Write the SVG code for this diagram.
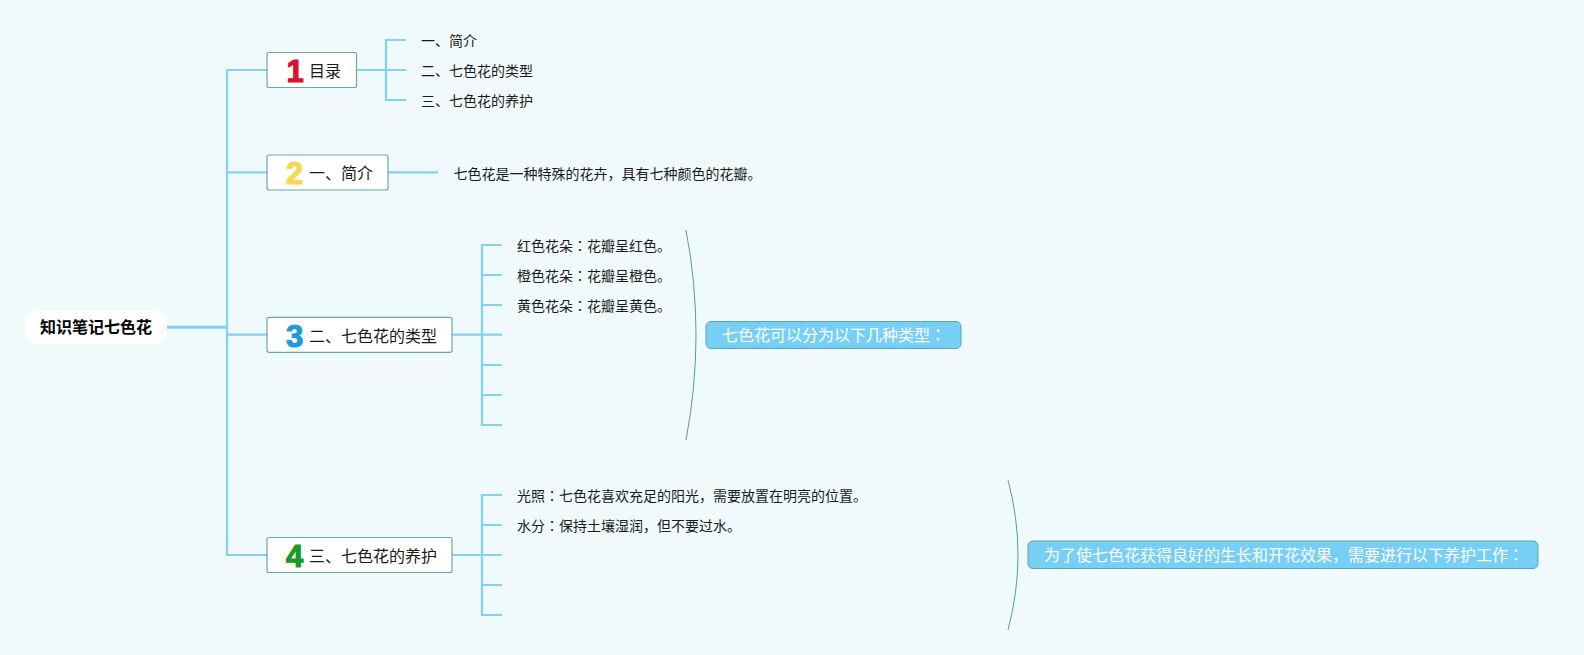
<svg xmlns="http://www.w3.org/2000/svg" width="1584" height="655" viewBox="0 0 1584 655">
<style>
text{font-family:"Noto Sans CJK SC","Noto Sans CJK TC",sans-serif;fill:#1a1a1a}
.c{font-family:"Noto Sans CJK TC",sans-serif}
.s{font-size:14px}
.b{font-size:16px}
.r{font-size:16px;font-weight:700;fill:#000}
.n{font-family:"Liberation Sans",Arial,sans-serif;font-size:31px;font-weight:700;text-anchor:middle;stroke-width:1.2;stroke-linejoin:round}
.box{fill:#fff;stroke:#6ba8a2;stroke-width:1.2}
.note{fill:#78cff5;stroke:#5aa6a6;stroke-width:1}
.w{font-size:16px;fill:#fff}
.l{fill:none;stroke:#84d2f2;stroke-width:2.200}
.arc{fill:none;stroke:#5a9e8e;stroke-width:1}
</style>
<rect width="1584" height="655" fill="#f0f9fc"/>
<g id="connectors">
<path class="l" style="stroke-width:3" d="M167 327.300H227"/>
<path class="l" d="M267 70H227V555H267M227 172.300H267M227 334.700H267"/>
<path class="l" d="M406 40H386V100H406M356 70H406M388 172.300H438"/>
<path class="l" d="M452 334.700H502M502 245H482V425H502M482 275H502M482 305H502M482 365H502M482 395H502"/>
<path class="l" d="M452 555H502M502 495H482V615H502M482 525H502M482 585H502"/>
<path class="arc" d="M686 230Q706 335 686 440"/>
<path class="arc" d="M1008 480Q1028 555 1008 630"/>
</g>
<g id="root"><rect x="25" y="311" width="142" height="33" rx="12" fill="#fff"/><text class="r" x="40" y="333">知识笔记七色花</text></g>
<g id="topic1"><rect class="box" x="267" y="52.500" width="89.500" height="35" rx="2"/><text class="n" x="295" y="81.500" style="fill:#d9112e;stroke:#d9112e">1</text><text class="b" x="309" y="76.700">目录</text></g>
<g id="topic2"><rect class="box" x="267" y="155" width="121" height="35" rx="2"/><text class="n" x="294.500" y="184" style="fill:#f5d94e;stroke:#f5d94e">2</text><text class="b" x="309" y="179">一、简介</text></g>
<g id="topic3"><rect class="box" x="267" y="317.300" width="185" height="35" rx="2"/><text class="n" x="294.500" y="346.500" style="fill:#1e9bdc;stroke:#1e9bdc">3</text><text class="b" x="309" y="341.500">二、七色花的类型</text></g>
<g id="topic4"><rect class="box" x="267" y="537.500" width="185" height="35" rx="2"/><text class="n" x="294.500" y="566.500" style="fill:#169c25;stroke:#169c25">4</text><text class="b" x="309" y="561.500">三、七色花的养护</text></g>
<g id="toc1"><text class="s" x="421" y="46">一、简介</text></g>
<g id="toc2"><text class="s" x="421" y="76">二、七色花的类型</text></g>
<g id="toc3"><text class="s" x="421" y="106">三、七色花的养护</text></g>
<g id="intro"><text class="s" x="453.500" y="179">七色花是一种特殊的花卉，具有七种颜色的花瓣。</text></g>
<g id="type1"><text class="s" x="517" y="251">红色花朵<tspan class="c">：</tspan>花瓣呈红色。</text></g>
<g id="type2"><text class="s" x="517" y="281">橙色花朵<tspan class="c">：</tspan>花瓣呈橙色。</text></g>
<g id="type3"><text class="s" x="517" y="311">黄色花朵<tspan class="c">：</tspan>花瓣呈黄色。</text></g>
<g id="care1"><text class="s" x="517" y="501">光照<tspan class="c">：</tspan>七色花喜欢充足的阳光，需要放置在明亮的位置。</text></g>
<g id="care2"><text class="s" x="517" y="531">水分<tspan class="c">：</tspan>保持土壤湿润，但不要过水。</text></g>
<g id="note1"><rect class="note" x="706" y="321.500" width="255" height="27" rx="5"/><text class="w" x="722" y="341">七色花可以分为以下几种类型<tspan class="c">：</tspan></text></g>
<g id="note2"><rect class="note" x="1028" y="541" width="510" height="27.500" rx="5"/><text class="w" x="1044" y="561">为了使七色花获得良好的生长和开花效果，需要进行以下养护工作<tspan class="c">：</tspan></text></g>
</svg>
